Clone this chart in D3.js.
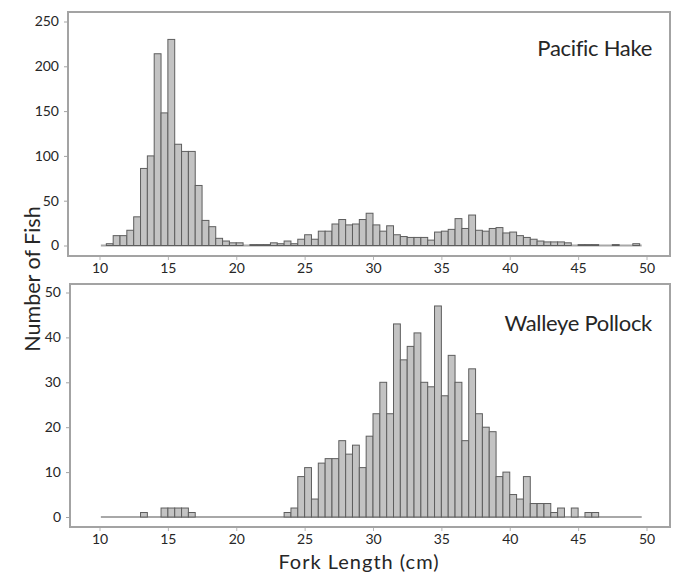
<!DOCTYPE html>
<html>
<head>
<meta charset="utf-8">
<script src="https://cdn.jsdelivr.net/npm/d3@7"></script>
<style>
  html, body { margin: 0; padding: 0; background: #fff; }
  svg { display: block; }
  text { font-family: Lato, "Open Sans", sans-serif; fill: #262626; }
</style>
</head>
<body>
<svg id="chart" width="675" height="573"></svg>
<script>
// Fork-length bins (cm, lower edge of each 0.5 cm bin)
const binStarts = [10,10.5,11,11.5,12,12.5,13,13.5,14,14.5,15,15.5,16,16.5,17,17.5,18,18.5,19,19.5,
  20,20.5,21,21.5,22,22.5,23,23.5,24,24.5,25,25.5,26,26.5,27,27.5,28,28.5,29,29.5,
  30,30.5,31,31.5,32,32.5,33,33.5,34,34.5,35,35.5,36,36.5,37,37.5,38,38.5,39,39.5,
  40,40.5,41,41.5,42,42.5,43,43.5,44,44.5,45,45.5,46,46.5,47,47.5,48,48.5,49,49.5];
const binWidth = 0.5;

// Pacific Hake counts per bin
const hakeCounts = [0,2,11,11,17,32,86,100,214,148,230,113,105,105,67,28,21,8,5,3,
  3,0,1,1,1,3,2,5,2,7,12,7,16,16,24,29,23,24,29,36,
  23,16,22,12,10,9,9,9,6,15,16,18,30,19,34,17,16,19,20,14,
  15,11,9,7,5,4,4,4,3,0,1,1,1,0,0,1,0,0,2,0];

// Walleye Pollock counts per bin
const pollockCounts = [0,0,0,0,0,0,1,0,0,2,2,2,2,1,0,0,0,0,0,0,
  0,0,0,0,0,0,0,1,2,9,11,4,12,13,13,17,14,16,11,18,
  23,30,23,43,35,38,41,30,29,47,27,36,30,17,33,23,20,19,9,10,
  5,4,9,3,3,3,1,2,0,2,0,1,1,0,0,0,0,0,0,0];

const xTicks = [10,15,20,25,30,35,40,45,50];
const hakeYTicks = [0,50,100,150,200,250];
const pollockYTicks = [0,10,20,30,40,50];
const baselineRange = [10.1, 49.65];

const svg = d3.select("#chart");
const x = d3.scaleLinear().domain([10, 50]).range([99.5, 646.5]);

const panels = [
  { name: "Pacific Hake", counts: hakeCounts, yTicks: hakeYTicks, ymax: 250,
    frame: { x0: 68, x1: 670, y0: 12, y1: 256 }, yRange: [245.5, 21.5], labelY: 56 },
  { name: "Walleye Pollock", counts: pollockCounts, yTicks: pollockYTicks, ymax: 50,
    frame: { x0: 70, x1: 670, y0: 284, y1: 527 }, yRange: [517, 292.5], labelY: 331 }
];

panels.forEach(p => {
  const y = d3.scaleLinear().domain([0, p.ymax]).range(p.yRange);
  const g = svg.append("g");

  // frame
  g.append("rect")
    .attr("x", p.frame.x0).attr("y", p.frame.y0)
    .attr("width", p.frame.x1 - p.frame.x0).attr("height", p.frame.y1 - p.frame.y0)
    .attr("fill", "none").attr("stroke", "#a3a3a3").attr("stroke-width", 2);

  // y axis (ticks outward on left of frame)
  const yAxis = d3.axisLeft(y).tickValues(p.yTicks).tickSize(3).tickPadding(5);
  const ya = g.append("g").attr("transform", `translate(${p.frame.x0 - 1},0)`).call(yAxis);
  ya.select(".domain").remove();
  ya.selectAll(".tick line").attr("stroke", "#a3a3a3");
  ya.selectAll(".tick text").attr("font-size", 14).attr("font-family", "Lato, sans-serif").attr("fill", "#333");

  // x axis
  const xAxis = d3.axisBottom(x).tickValues(xTicks).tickSize(3).tickPadding(3);
  const xa = g.append("g").attr("transform", `translate(0,${p.frame.y1 + 1})`).call(xAxis);
  xa.select(".domain").remove();
  xa.selectAll(".tick line").attr("stroke", "#b5b5b5");
  xa.selectAll(".tick text").attr("font-size", 14).attr("font-family", "Lato, sans-serif").attr("fill", "#333");

  // baseline
  g.append("line")
    .attr("x1", x(baselineRange[0])).attr("x2", x(baselineRange[1]))
    .attr("y1", y(0)).attr("y2", y(0))
    .attr("stroke", "#a8a8a8").attr("stroke-width", 2);

  // bars
  const data = binStarts.map((b, i) => ({ b, v: p.counts[i] })).filter(d => d.v > 0);
  g.selectAll("rect.bar").data(data).enter().append("rect")
    .attr("class", "bar")
    .attr("x", d => x(d.b))
    .attr("width", d => x(d.b + binWidth) - x(d.b))
    .attr("y", d => y(d.v))
    .attr("height", d => y(0) - y(d.v))
    .attr("fill", "#c3c3c3")
    .attr("stroke", "#5e5e5e")
    .attr("stroke-width", 1);

  // species label
  g.append("text")
    .attr("x", 652).attr("y", p.labelY)
    .attr("text-anchor", "end")
    .attr("font-size", 22)
    .attr("letter-spacing", -0.3)
    .attr("fill", "#1a1a1a")
    .text(p.name);
});

// axis titles
svg.append("text")
  .attr("transform", "translate(40,279) rotate(-90)")
  .attr("text-anchor", "middle")
  .attr("font-size", 21.5)
  .attr("fill", "#1a1a1a")
  .text("Number of Fish");

svg.append("text")
  .attr("x", 359).attr("y", 568.5)
  .attr("text-anchor", "middle")
  .attr("font-size", 20)
  .attr("letter-spacing", 1)
  .attr("fill", "#1a1a1a")
  .text("Fork Length (cm)");
</script>
</body>
</html>
